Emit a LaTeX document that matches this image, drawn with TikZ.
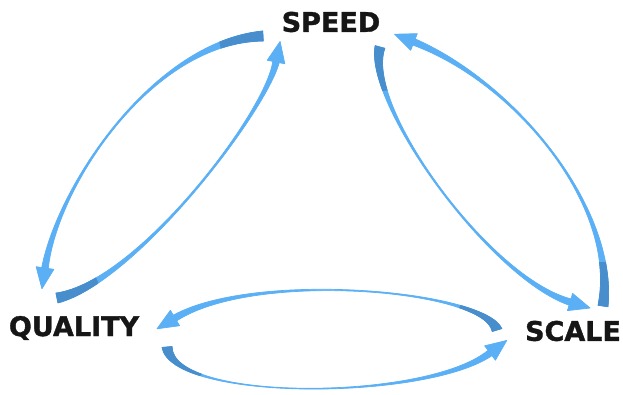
\documentclass[tikz,border=0pt]{standalone}
\usepackage{fontspec}
\setmainfont{DejaVu Sans}[BoldFeatures={FakeBold=1.3}]
\usetikzlibrary{calc}
\definecolor{arrowblue}{RGB}{90,175,245}
\definecolor{arrowdark}{RGB}{72,142,205}
\definecolor{labelink}{RGB}{22,22,22}
\newcommand\ribbon[1]{%
  \path ($(#10)!5pt!90:(#11)$) coordinate (#1sp)
        ($(#10)!5pt!-90:(#11)$) coordinate (#1sm)
        ($(#13)!3.3pt!-90:(#12)$) coordinate (#1ep)
        ($(#13)!3.3pt!90:(#12)$) coordinate (#1em)
        ($(#13)!9pt!-90:(#12)$) coordinate (#1hp)
        ($(#13)!9pt!90:(#12)$) coordinate (#1hm)
        ($(#13)!21pt!180:(#12)$) coordinate (#1t);
  \filldraw[arrowblue, line width=0.7pt, line join=round] (#1sp) .. controls (#11) and (#12) .. (#1ep) -- (#1hp) -- (#1t) -- (#1hm) -- (#1em) .. controls (#12) and (#11) .. (#1sm) -- cycle;
  \begin{scope}
    \clip (#10) circle (44pt);
    \filldraw[arrowdark, line width=0.7pt, line join=round] (#1sp) .. controls (#11) and (#12) .. (#1ep) -- (#1em) .. controls (#12) and (#11) .. (#1sm) -- cycle;
  \end{scope}%
}
\tikzset{lbl/.style={text=labelink, font=\fontsize{27}{30}\selectfont\bfseries, inner sep=0pt}}
\begin{document}
\begin{tikzpicture}[x=1pt,y=-1pt]
\useasboundingbox (0,0) rectangle (623,394);
\node[lbl] (speed) at (331,22) {SPEED};
\node[lbl] (quality) at (74,328) {QUALITY};
\node[lbl] (scale) at (573,331) {SCALE};
% A: SPEED -> QUALITY (outer left)
\coordinate (a0) at (263,36); \coordinate (a1) at (152,42);
\coordinate (a2) at (57,187); \coordinate (a3) at (45,268);
\ribbon{a}
% B: QUALITY -> SPEED
\coordinate (b0) at (57,298); \coordinate (b1) at (137,282);
\coordinate (b2) at (266,112); \coordinate (b3) at (276,62);
\ribbon{b}
% C: SPEED -> SCALE
\coordinate (c0) at (380,47); \coordinate (c1) at (364,105);
\coordinate (c2) at (490,278); \coordinate (c3) at (570,302);
\ribbon{c}
% D: SCALE -> SPEED (outer right)
\coordinate (d0) at (603,306); \coordinate (d1) at (618,206);
\coordinate (d2) at (514,82); \coordinate (d3) at (414,42);
\ribbon{d}
% E: SCALE -> QUALITY (top)
\coordinate (e0) at (497,330); \coordinate (e1) at (485,290);
\coordinate (e2) at (255,270); \coordinate (e3) at (175,318);
\ribbon{e}
% F: QUALITY -> SCALE (bottom)
\coordinate (f0) at (167,347); \coordinate (f1) at (172,402);
\coordinate (f2) at (426,401); \coordinate (f3) at (490,353);
\ribbon{f}
\end{tikzpicture}
\end{document}
